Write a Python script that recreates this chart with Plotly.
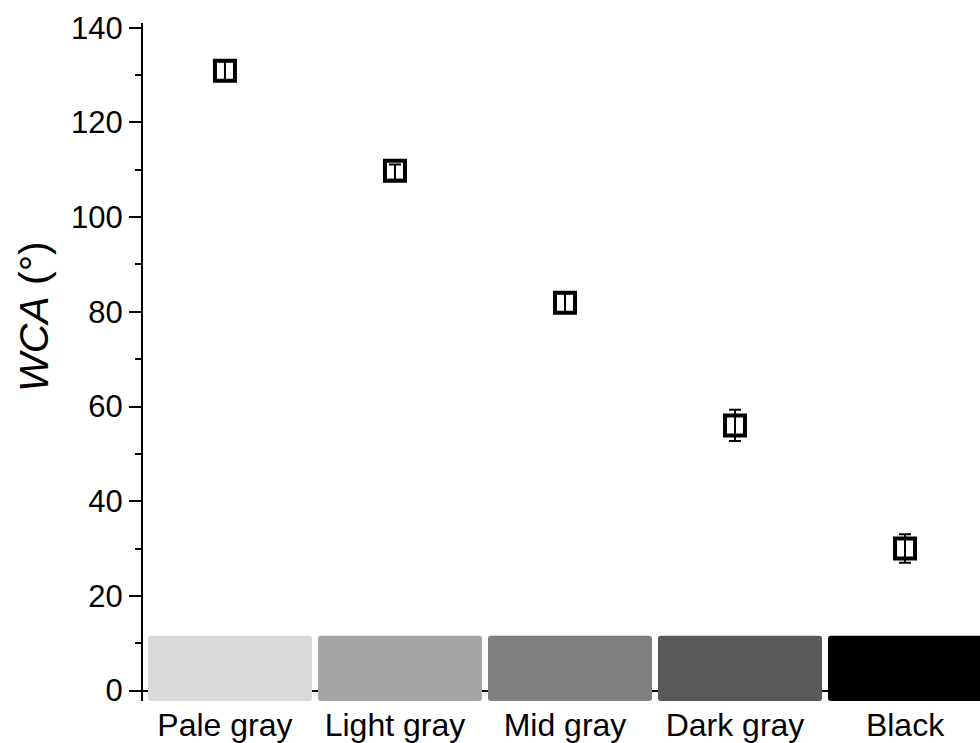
import plotly.graph_objects as go

categories = ["Pale gray", "Light gray", "Mid gray", "Dark gray", "Black"]
wca = [130.9, 109.8, 81.9, 56.0, 30.0]
wca_err_plus = [2.0, 1.3, 2.0, 3.3, 3.0]
wca_err_minus = [2.0, 1.9, 2.0, 3.3, 3.0]
swatch_colors = ["#d9d9d9", "#a5a5a5", "#808080", "#595959", "#000000"]
swatch_base = -2.2
swatch_height = 13.8
y_ticks = [0, 20, 40, 60, 80, 100, 120, 140]
y_title = "<i>WCA</i> (°)"

xpos = list(range(len(categories)))
FONT = "Liberation Sans, Arial, sans-serif"

W, H = 980, 743
ML, MR, MT, MB = 143, 0, 23, 42

fig = go.Figure()
fig.add_trace(go.Bar(
    x=xpos, y=[swatch_height] * len(categories), base=[swatch_base] * len(categories),
    width=0.965, offset=-0.453,
    marker=dict(color=swatch_colors, line=dict(width=0), cornerradius=3),
    hoverinfo="skip", showlegend=False,
))
fig.add_trace(go.Scatter(
    x=xpos, y=wca, mode="markers",
    marker=dict(symbol="square-open", size=20, color="black", line=dict(width=4, color="black")),
    error_y=dict(type="data", symmetric=False, array=wca_err_plus, arrayminus=wca_err_minus,
                 visible=True, color="black", thickness=2, width=6),
    showlegend=False,
))

ymin, ymax = -2.2, 141
pw = W - ML - MR
ph = H - MT - MB
fig.add_annotation(
    text=y_title, textangle=-90, showarrow=False,
    xref="paper", yref="paper",
    x=(34 - ML) / pw, y=1 - (317 - MT) / ph,
    xanchor="center", yanchor="middle",
    font=dict(size=41, family=FONT, color="black"),
)
fig.update_layout(
    width=W, height=H,
    margin=dict(l=ML, r=MR, t=MT, b=MB),
    paper_bgcolor="white", plot_bgcolor="white",
    font=dict(family=FONT, size=31, color="black"),
    xaxis=dict(
        range=[-0.482, 4.441],
        tickvals=xpos, ticktext=categories,
        showline=True, linecolor="black", linewidth=2,
        ticks="outside", ticklen=6, tickwidth=2, tickcolor="black",
        showgrid=False, zeroline=False,
        anchor="free", position=(0 - ymin) / (ymax - ymin),
        layer="below traces", automargin=False,
        tickfont=dict(size=32, family=FONT),
    ),
    yaxis=dict(
        range=[ymin, ymax],
        tickvals=y_ticks,
        showline=True, linecolor="black", linewidth=2,
        ticks="outside", ticklen=12, tickwidth=2, tickcolor="black",
        minor=dict(dtick=10, tick0=0, ticks="outside", ticklen=6, tickwidth=2, tickcolor="black"),
        showgrid=False, zeroline=False,
        tickfont=dict(size=31, family=FONT),
        layer="below traces", automargin=False,
    ),
)
fig.write_html(
    "out.html",
    default_width=f"{W}px", default_height=f"{H}px",
    config={"displayModeBar": False},
    post_script="document.body.style.margin='0';document.documentElement.style.overflow='hidden';",
)
